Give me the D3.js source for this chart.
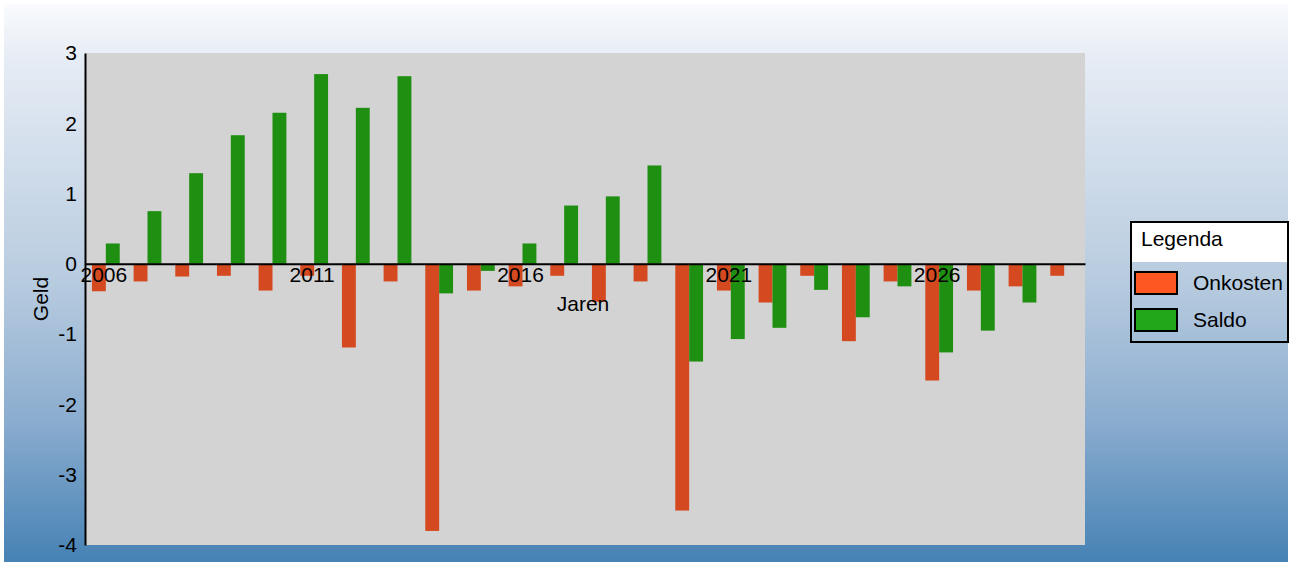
<!DOCTYPE html>
<html>
<head>
  <meta charset="utf-8">
  <script src="https://d3js.org/d3.v7.min.js"></script>
  <style>
    body { margin: 0; }
    text { font-family: "Liberation Sans", Arial, sans-serif; }
  </style>
</head>
<body>
<script>
  // Data
  var years = d3.range(2006, 2030);
  var onkosten = [-0.39, -0.25, -0.18, -0.17, -0.38, -0.17, -1.19, -0.25, -3.80, -0.38, -0.32, -0.17,
                  -0.54, -0.25, -3.51, -0.38, -0.55, -0.17, -1.10, -0.25, -1.66, -0.38, -0.32, -0.17];
  var saldo = [0.29, 0.75, 1.29, 1.83, 2.15, 2.70, 2.22, 2.67, -0.42, -0.10, 0.29, 0.83,
               0.96, 1.40, -1.39, -1.07, -0.91, -0.37, -0.76, -0.32, -1.26, -0.95, -0.55, 0];
  var seriesNames = ["Onkosten", "Saldo"];
  var yTicks = [-4, -3, -2, -1, 0, 1, 2, 3];
  var xTickYears = [2006, 2011, 2016, 2021, 2026];

  var barColors = { Onkosten: "#d4491f", Saldo: "#1f8f11" };
  var legendColors = { Onkosten: "#ff5722", Saldo: "#22a61a" };

  var W = 1292, H = 562;
  var plot = { left: 85, right: 1085, top: 53, bottom: 545 };
  var fontSize = "21px";

  var svg = d3.select("body").append("svg")
      .attr("width", W)
      .attr("height", H);

  // background gradient
  var grad = svg.append("defs").append("linearGradient")
      .attr("id", "bg").attr("x1", 0).attr("y1", 0).attr("x2", 0).attr("y2", 1);
  [["0%", "#f9fbfd"], ["10%", "#e6ecf5"], ["50%", "#b7cbdf"], ["75%", "#8aaccf"], ["100%", "#4682b4"]]
    .forEach(function (s) {
      grad.append("stop").attr("offset", s[0]).attr("stop-color", s[1]);
    });

  svg.append("rect")
      .attr("x", 4).attr("y", 4)
      .attr("width", W - 8).attr("height", H - 4)
      .attr("fill", "url(#bg)");

  svg.append("rect")
      .attr("x", plot.left).attr("y", plot.top)
      .attr("width", plot.right - plot.left).attr("height", plot.bottom - plot.top)
      .attr("fill", "#d3d3d3");

  // scales
  var x = d3.scaleBand()
      .domain(years)
      .range([plot.left, plot.right])
      .paddingInner(1 / 3)
      .paddingOuter(1 / 6);
  var x1 = d3.scaleBand()
      .domain(seriesNames)
      .range([0, x.bandwidth()]);
  var y = d3.scaleLinear()
      .domain([-4, 3])
      .range([plot.bottom, plot.top]);

  var rows = years.map(function (yr, i) {
    return { year: yr, Onkosten: onkosten[i], Saldo: saldo[i] };
  });

  // bars
  var groups = svg.append("g").selectAll("g")
      .data(rows).enter().append("g")
      .attr("transform", function (d) { return "translate(" + x(d.year) + ",0)"; });

  groups.selectAll("rect")
      .data(function (d) { return seriesNames.map(function (k) { return { key: k, value: d[k] }; }); })
      .enter().append("rect")
      .attr("x", function (d) { return x1(d.key); })
      .attr("width", x1.bandwidth())
      .attr("y", function (d) { return y(Math.max(0, d.value)); })
      .attr("height", function (d) { return Math.abs(y(d.value) - y(0)); })
      .attr("fill", function (d) { return barColors[d.key]; });

  // y axis (plain hyphen for negatives)
  var yAxis = svg.append("g")
      .attr("transform", "translate(" + plot.left + ",0)")
      .call(d3.axisLeft(y).tickValues(yTicks).tickSize(0).tickPadding(8)
        .tickFormat(function (d) { return String(d); }));
  yAxis.select(".domain").attr("stroke", "#000").attr("stroke-width", 2);
  yAxis.selectAll("text").style("font-size", fontSize).attr("fill", "#000");

  // x axis on zero line
  var xAxis = svg.append("g")
      .attr("transform", "translate(0," + y(0) + ")")
      .call(d3.axisBottom(x).tickValues(xTickYears).tickSize(0).tickPadding(3).tickSizeOuter(0));
  xAxis.select(".domain").attr("stroke", "#000").attr("stroke-width", 2);
  xAxis.selectAll("text").style("font-size", fontSize).attr("fill", "#000")
      .attr("dx", -2);

  // axis titles
  svg.append("text")
      .attr("x", (plot.left + plot.right) / 2 - 2)
      .attr("y", 311)
      .attr("text-anchor", "middle")
      .style("font-size", fontSize)
      .text("Jaren");

  svg.append("text")
      .attr("transform", "translate(48," + (plot.top + plot.bottom) / 2 + ") rotate(-90)")
      .attr("text-anchor", "middle")
      .style("font-size", fontSize)
      .text("Geld");

  // legend
  var legend = svg.append("g").attr("transform", "translate(1131,222)");
  legend.append("rect")
      .attr("width", 157).attr("height", 40)
      .attr("fill", "#fff");
  legend.append("rect")
      .attr("width", 157).attr("height", 120)
      .attr("fill", "none").attr("stroke", "#000").attr("stroke-width", 2);
  legend.append("text")
      .attr("x", 10).attr("y", 24)
      .style("font-size", fontSize)
      .text("Legenda");

  var items = legend.selectAll(".item")
      .data(seriesNames).enter().append("g")
      .attr("class", "item")
      .attr("transform", function (d, i) { return "translate(4," + (50 + i * 37) + ")"; });
  items.append("rect")
      .attr("width", 42).attr("height", 22)
      .attr("fill", function (d) { return legendColors[d]; })
      .attr("stroke", "#000").attr("stroke-width", 2);
  items.append("text")
      .attr("x", 58).attr("y", 18)
      .style("font-size", fontSize)
      .text(function (d) { return d; });
</script>
</body>
</html>
